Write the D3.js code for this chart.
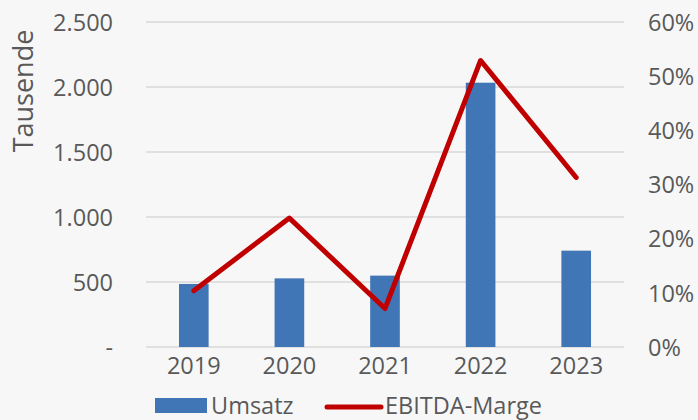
<!DOCTYPE html>
<html lang="de">
<head>
<meta charset="utf-8">
<title>Umsatz und EBITDA-Marge</title>
<script src="https://cdn.jsdelivr.net/npm/d3@7"></script>
<style>
    body { margin: 0; background: #f7f7f7; }
    svg { display: block; background: #f7f7f7; }
    text { font-family: "Open Sans", sans-serif; fill: #595959; }
</style>
</head>
<body>
<svg width="698" height="420"></svg>
<script>
    // data
    const years = ["2019", "2020", "2021", "2022", "2023"]
    const umsatz = [485, 528, 549, 2033, 741]          // Tausende
    const marge = [0.104, 0.238, 0.071, 0.529, 0.313]  // EBITDA-Marge
    const leftTicks = [0, 500, 1000, 1500, 2000, 2500]
    const rightTicks = [0, 0.1, 0.2, 0.3, 0.4, 0.5, 0.6]

    const svg = d3.select("svg")
    const plotLeft = 146, plotRight = 624, plotTop = 22, plotBottom = 347
    const fs = "23.5px"

    const x = d3.scaleBand().domain(years).range([plotLeft, plotRight]).paddingInner(0.69).paddingOuter(0.345)
    const y = d3.scaleLinear().domain([0, 2500]).range([plotBottom, plotTop])
    const y2 = d3.scaleLinear().domain([0, 0.6]).range([plotBottom, plotTop])

    const fmt = d => d === 0 ? "-" : d3.format(",")(d).replace(/,/g, ".")

    // gridlines
    svg.append("g")
        .selectAll("line")
        .data(leftTicks)
        .join("line")
        .attr("x1", plotLeft).attr("x2", plotRight)
        .attr("y1", d => y(d)).attr("y2", d => y(d))
        .attr("stroke", "#d9d9d9").attr("stroke-width", 1.3)

    // left axis
    const gl = svg.append("g")
        .attr("transform", `translate(${plotLeft - 33},0)`)
        .call(d3.axisLeft(y).tickValues(leftTicks).tickFormat(fmt).tickSize(0).tickPadding(0))
    gl.select(".domain").remove()
    gl.selectAll("text").style("font-size", fs).attr("fill", "#595959").attr("dy", "0.35em")
        .attr("font-family", "Open Sans")

    // right axis
    const gr = svg.append("g")
        .attr("transform", `translate(648,0)`)
        .call(d3.axisRight(y2).tickValues(rightTicks).tickFormat(d3.format(".0%")).tickSize(0).tickPadding(0))
    gr.select(".domain").remove()
    gr.selectAll("text").style("font-size", fs).attr("fill", "#595959").attr("dy", "0.35em")
        .attr("font-family", "Open Sans")

    // x axis
    const gx = svg.append("g")
        .attr("transform", `translate(0,${plotBottom})`)
        .call(d3.axisBottom(x).tickSize(0).tickPadding(10))
    gx.select(".domain").remove()
    gx.selectAll("text").style("font-size", fs).attr("fill", "#595959").attr("dy", "0.71em")
        .attr("font-family", "Open Sans")

    // axis title
    svg.append("text")
        .attr("transform", "translate(33,91) rotate(-90)")
        .attr("text-anchor", "middle")
        .style("font-size", "27px")
        .text("Tausende")

    // bars
    svg.append("g")
        .selectAll("rect")
        .data(umsatz)
        .join("rect")
        .attr("x", (d, i) => x(years[i]))
        .attr("y", d => y(d))
        .attr("width", x.bandwidth())
        .attr("height", d => plotBottom - y(d))
        .attr("fill", "#4075b6")

    // line
    const line = d3.line()
        .x((d, i) => x(years[i]) + x.bandwidth() / 2)
        .y(d => y2(d))
    svg.append("path")
        .datum(marge)
        .attr("d", line)
        .attr("fill", "none")
        .attr("stroke", "#c00000")
        .attr("stroke-width", 5)
        .attr("stroke-linejoin", "round")
        .attr("stroke-linecap", "round")

    // legend
    const lg = svg.append("g")
    lg.append("rect").attr("x", 155).attr("y", 398).attr("width", 52).attr("height", 15).attr("fill", "#4075b6")
    lg.append("text").attr("x", 211).attr("y", 406).attr("dy", "0.35em").style("font-size", fs).text("Umsatz")
    lg.append("line").attr("x1", 327).attr("x2", 381).attr("y1", 407).attr("y2", 407)
        .attr("stroke", "#c00000").attr("stroke-width", 5).attr("stroke-linecap", "round")
    lg.append("text").attr("x", 385).attr("y", 406).attr("dy", "0.35em").style("font-size", fs).text("EBITDA-Marge")
</script>
</body>
</html>
